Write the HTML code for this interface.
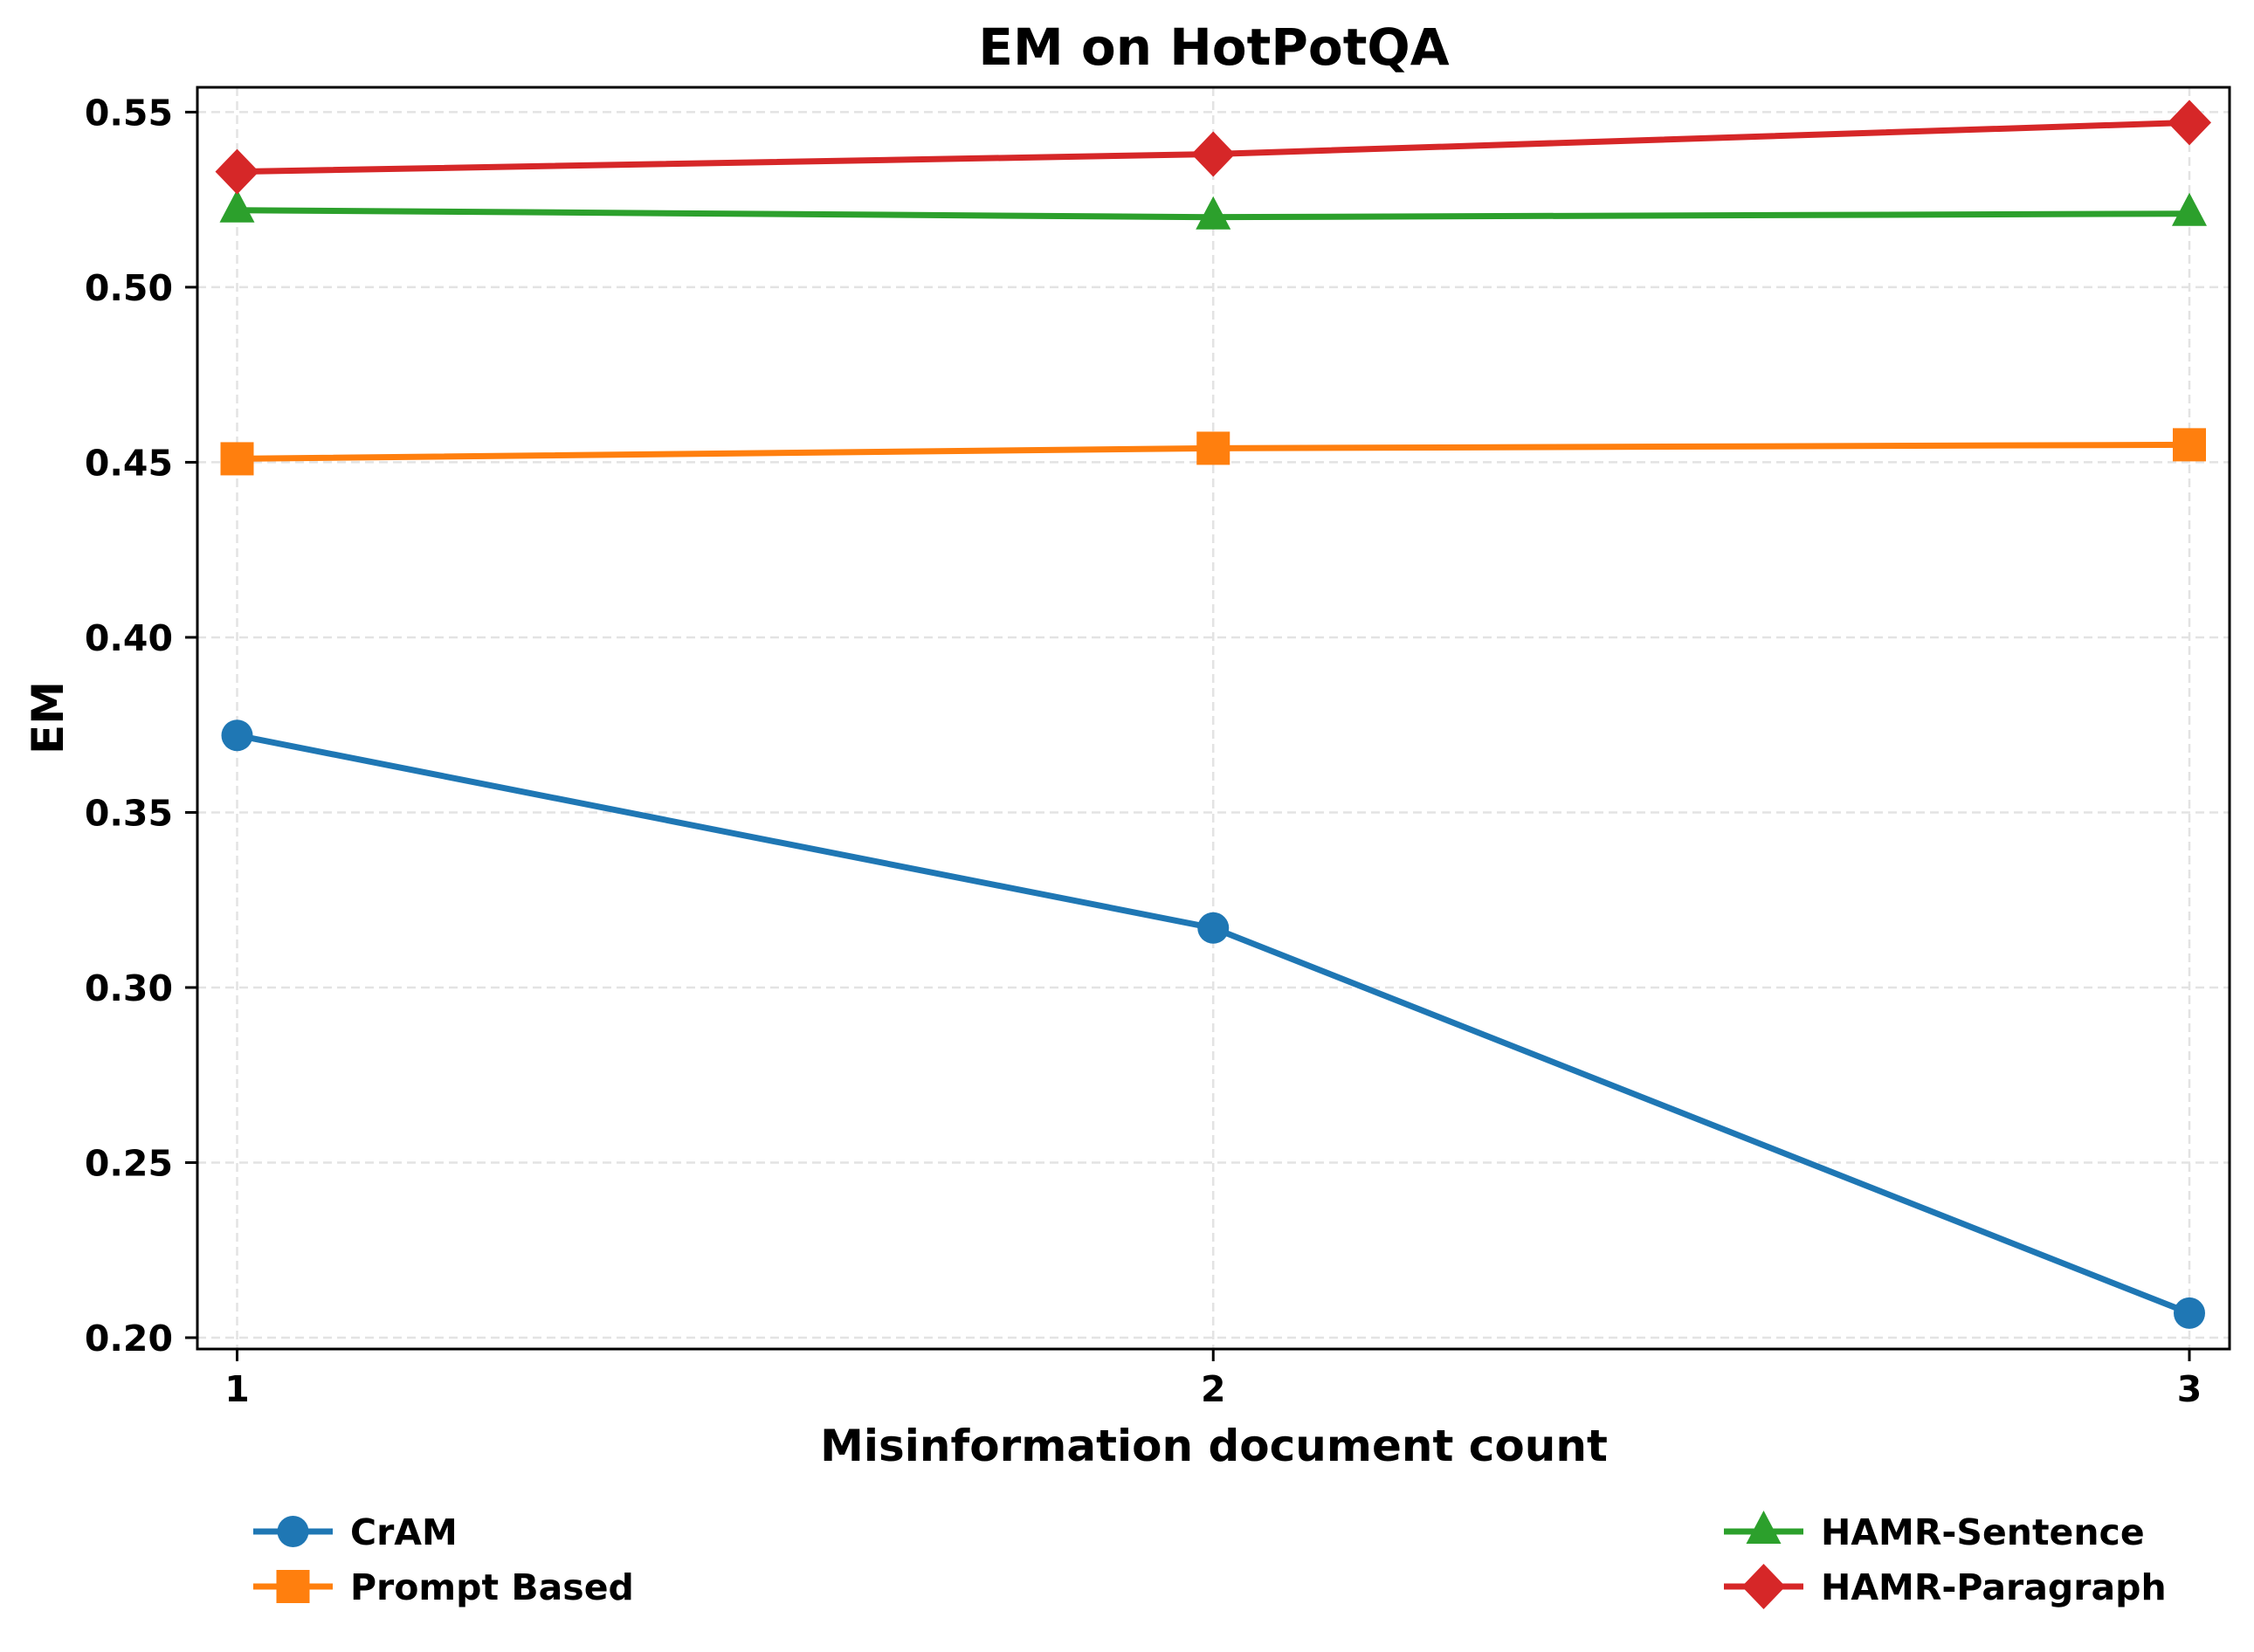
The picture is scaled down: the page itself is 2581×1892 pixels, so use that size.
<!DOCTYPE html>
<html><head><meta charset="utf-8"><style>
body{margin:0;background:#fff}
svg text{font-family:"DejaVu Sans","Liberation Sans",sans-serif;font-weight:bold}
</style></head><body>
<svg id="chart" width="2581" height="1887" xmlns="http://www.w3.org/2000/svg">
<rect width="2581" height="1887" fill="#fff"/>
<text x="1390" y="74" font-size="58" text-anchor="middle">EM on HotPotQA</text>
<g id="grid"></g>
<g id="series"></g>
<rect x="226" y="100" width="2327" height="1445" fill="none" stroke="#000" stroke-width="3"/>
<g id="axes"></g>
<text x="1390" y="1673" font-size="50" text-anchor="middle">Misinformation document count</text>
<text transform="translate(72,822) rotate(-90)" font-size="50" text-anchor="middle">EM</text>
<g id="legend"></g>
</svg>
<script>
const categories=[1,2,3];
const yTicks=[0.20,0.25,0.30,0.35,0.40,0.45,0.50,0.55];
const seriesNames=["CrAM","Prompt Based","HAMR-Sentence","HAMR-Paragraph"];
const cramValues=[0.372,0.317,0.207];
const promptValues=[0.451,0.454,0.455];
const sentenceValues=[0.522,0.520,0.521];
const paragraphValues=[0.533,0.538,0.547];
const NS="http://www.w3.org/2000/svg";
const colors=["#1f77b4","#ff7f0e","#2ca02c","#d62728"];
const markers=["circle","square","triangle","diamond"];
const allVals=[cramValues,promptValues,sentenceValues,paragraphValues];
function xs(v){return 271.5+(v-1)*(2507-271.5)/2;}
function ys(v){return 1532+(v-0.20)*(128.4-1532)/0.35;}
function mk(tag,attrs,parent){const e=document.createElementNS(NS,tag);for(const k in attrs)e.setAttribute(k,attrs[k]);parent.appendChild(e);return e;}
const grid=document.getElementById('grid'),axes=document.getElementById('axes'),ser=document.getElementById('series'),leg=document.getElementById('legend');
yTicks.forEach(t=>{
 const y=ys(t);
 const g=mk('line',{x1:226,x2:2553,y1:y,y2:y,stroke:'#e3e3e3','stroke-width':2.5,'stroke-dasharray':'10,6'},grid);
 
 
 const tk=mk('line',{x1:212,x2:226,y1:y,y2:y,stroke:'#000','stroke-width':3},axes);
 
 
 const tx=mk('text',{x:198,y:y+15,'font-size':41,'text-anchor':'end'},axes);
 tx.textContent=t.toFixed(2);
 
 
});
categories.forEach(c=>{
 const x=xs(c);
 const g=mk('line',{x1:x,x2:x,y1:100,y2:1545,stroke:'#e3e3e3','stroke-width':2.5,'stroke-dasharray':'10,6'},grid);
 
 
 const tk=mk('line',{x1:x,x2:x,y1:1545,y2:1559,stroke:'#000','stroke-width':3},axes);
 
 
 const tx=mk('text',{x:x,y:1605,'font-size':41,'text-anchor':'middle'},axes);
 tx.textContent=String(c);
 
 
});
function marker(type,x,y,col,parent){
 let e;
 if(type==='circle')e=mk('circle',{cx:x,cy:y,r:18,fill:col},parent);
 else if(type==='square')e=mk('rect',{x:x-19,y:y-19,width:38,height:38,fill:col},parent);
 else if(type==='triangle')e=mk('polygon',{points:`${x},${y-24} ${x+20},${y+14} ${x-20},${y+14}`,fill:col},parent);
 else e=mk('polygon',{points:`${x},${y-26} ${x+25},${y} ${x},${y+26} ${x-25},${y}`,fill:col},parent);
 return e;
}
allVals.forEach((vals,i)=>{
 const g=mk('g',{},ser);
 
 
 const pl=mk('polyline',{points:vals.map((v,j)=>xs(categories[j])+','+ys(v)).join(' '),fill:'none',stroke:colors[i],'stroke-width':7,'stroke-linejoin':'round'},g);
 
 
 vals.forEach((v,j)=>{
  const m=marker(markers[i],xs(categories[j]),ys(v),colors[i],g);
  
  
 });
});
const legPos=[[290,1754],[290,1817],[1974,1754],[1974,1817]];
seriesNames.forEach((n,i)=>{
 const [x,y]=legPos[i];
 const g=mk('g',{},leg);
 
 
 mk('line',{x1:x,x2:x+91,y1:y,y2:y,stroke:colors[i],'stroke-width':7},g);
 marker(markers[i],x+45.5,y,colors[i],g);
 const t=mk('text',{x:x+111,y:y+15,'font-size':41},g);
 t.textContent=n;
});
</script>
</body></html>
